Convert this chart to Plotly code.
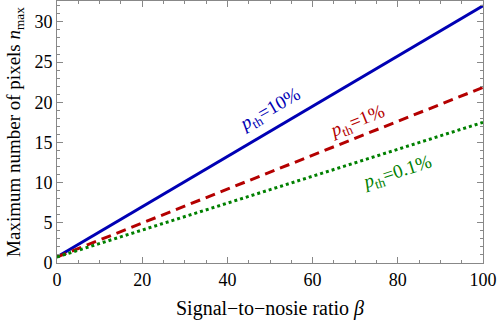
import plotly.graph_objects as go

# signal-to-noise ratio beta
beta = [0, 20, 40, 60, 80, 100]
# maximum number of pixels n_max for each threshold
n_10 = [0.75, 7.0, 13.25, 19.5, 25.75, 32.0]
n_1 = [0.75, 4.97, 9.19, 13.4, 17.62, 21.85]
n_01 = [0.75, 4.1, 7.45, 10.8, 14.15, 17.5]

series = [
    (n_10, "p_th=10%", "#0000b4", "solid"),
    (n_1, "p_th=1%", "#b40000", "10px,6px"),
    (n_01, "p_th=0.1%", "#008000", "3px,3px"),
]

# label placement (data coords) and angle
labels = [
    ("<i>p</i><sub>th</sub>=10%", 50, 19.1, -30, "#0000b4"),
    ("<i>p</i><sub>th</sub>=1%", 70.4, 17.6, -22, "#b40000"),
    ("<i>p</i><sub>th</sub>=0.1%", 79.8, 11.2, -18, "#008000"),
]

SERIF = "Liberation Serif, Times New Roman, serif"

fig = go.Figure()
for ys, name, color, dash in series:
    fig.add_trace(go.Scatter(x=beta, y=ys, mode="lines", name=name,
                             line=dict(color=color, width=3, dash=dash)))

for text, x, y, ang, color in labels:
    fig.add_annotation(x=x, y=y, text=text, showarrow=False, textangle=ang,
                       font=dict(color=color, size=19, family=SERIF))

axis_style = dict(
    showgrid=False, zeroline=False, showline=True, linecolor="#888888", linewidth=1,
    mirror="ticks", ticks="inside", ticklen=6, tickcolor="#888888", automargin=False,
    tickfont=dict(size=18, color="black", family=SERIF),
)

fig.update_xaxes(range=[0, 100], dtick=20,
                 minor=dict(dtick=5, ticks="inside", ticklen=3, tickcolor="#888888"),
                 title=dict(text="Signal\u2212to\u2212nosie ratio <i>\u03b2</i>",
                            font=dict(size=20, family=SERIF, color="black"), standoff=12),
                 **axis_style)
fig.update_yaxes(range=[0, 32.6], dtick=5,
                 minor=dict(dtick=1, ticks="inside", ticklen=3, tickcolor="#888888"),
                 title=dict(text="Maximum number of pixels <i>n</i><sub>max</sub>",
                            font=dict(size=19, family=SERIF, color="black"), standoff=8),
                 **axis_style)

fig.update_layout(width=498, height=323, showlegend=False,
                  plot_bgcolor="white", paper_bgcolor="white",
                  margin=dict(l=57, r=15, t=1, b=60))

fig.write_html("out.html", config={"displayModeBar": False},
               post_script="document.body.style.margin='0';")
